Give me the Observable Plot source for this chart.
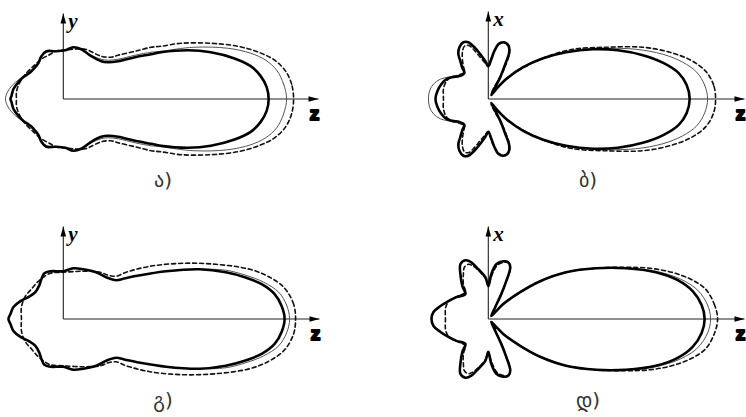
<!DOCTYPE html>
<html>
<head>
<meta charset="utf-8">
<script src="https://cdn.jsdelivr.net/npm/d3@7"></script>
<script src="https://cdn.jsdelivr.net/npm/@observablehq/plot@0.6"></script>
<style>
  body { margin: 0; background: #fff; }
  #chart { width: 746px; height: 417px; }
</style>
</head>
<body>
<div id="chart"></div>
<script>
// Four radiation patterns in the (z, y) and (z, x) planes.
// Each curve is given as its upper half, [z, transverse] pairs traced from the
// main-lobe tip round to the back-lobe tip; the lower half is its mirror image.

const panelIds     = ["a", "b", "c", "d"];
const panelCols    = ["left", "right", "left", "right"];
const panelRows    = ["top", "top", "bottom", "bottom"];
const panelLabels  = ["ა)", "ბ)", "გ)", "დ)"];
const verticalAxisNames = ["y", "x", "y", "x"];
const verticalAxisTop   = [86, 88, 93, 93];
const horizontalAxisEnd = [256, 257, 257, 257];
const horizontalAxisName = "z";
const labelPosition = [100, -82];

// panel a, (z, y) plane
const aBold = [[206,0],[204,12],[198,23],[188,33],[171,41],[148,47],[125,49],[98,47],[88,45],[72,42],[55,38],[45,37],[38,38],[28,43],[18,50],[10,52],[2,49],[-8,48],[-17,48],[-22,43],[-25,36],[-29,31],[-33,27],[-40,22],[-45,17],[-50,10],[-52,3],[-53,0]];
const aThin = [[224,0],[221,15],[214,29],[203,39],[188,46],[165,51],[131,52],[98,48],[88,47],[72,44],[55,40],[45,39],[38,40],[28,44],[18,50],[10,52],[2,49],[-8,48],[-17,47],[-22,43],[-25,36],[-30,30],[-37,25],[-44,20],[-51,14],[-56,7],[-58,0]];
const aDash = [[231,0],[229,15],[223,28],[212,39],[196,47],[175,53],[148,56],[118,56],[98,53],[88,52],[72,48],[55,44],[48,42],[38,43],[22,50],[10,50],[0,49],[-8,48],[-13,45],[-22,40],[-30,33],[-38,25],[-44,16],[-47,7],[-47,0]];

// panel b, (z, x) plane
const bBold = [[202,0],[199,14],[191,26],[176,36],[155,44],[130,49],[105,50],[78,47],[55,41],[35,32],[18,20],[8,10],[3,4],
  [7,12],[12,22],[17,35],[21,47],[20,54],[15,57],[10,55],[6,48],[3,40],[0,33],
  [-3,38],[-8,45],[-14,52],[-20,57],[-25,57],[-29,52],[-30,45],[-28,38],[-26,31],[-24,26],
  [-29,23],[-36,22],[-42,20],[-47,15],[-51,8],[-53,0]];
const bThin = [[220,0],[217,14],[209,27],[195,37],[175,45],[148,50],[118,51],[95,50],[78,47],[55,41],[35,32],[18,20],[8,10],[3,4],
  [7,12],[12,22],[17,35],[21,47],[20,54],[15,57],[10,55],[6,48],[3,40],[0,33],
  [-3,38],[-8,45],[-14,52],[-20,57],[-25,57],[-29,52],[-30,45],[-28,38],[-26,31],[-24,26],
  [-30,24],[-40,22],[-48,20],[-55,15],[-59,8],[-60,0]];
const bDash = [[228,0],[226,14],[218,28],[203,39],[182,47],[155,52],[118,52],[85,50],[60,43],[40,34],[20,22],[9,11],[3,5],
  [6,12],[12,22],[17,33],[21,45],[21,53],[16,57],[10,54],[5,46],[2,38],[0,33],
  [-4,37],[-9,43],[-15,50],[-20,54],[-24,53],[-26,47],[-26,40],[-25,33],[-24,27],
  [-30,24],[-37,22],[-42,18],[-45,10],[-45,0]];

// panel c, (z, y) plane
const cBold = [[222,0],[219,13],[212,25],[199,35],[182,42],[163,47],[137,50],[103,48],[77,44],[62,41],[53,39],[43,42],[33,47],[20,50],[10,51],[0,48],[-13,48],[-19,46],[-22,40],[-24,34],[-28,27],[-35,22],[-43,18],[-50,12],[-53,5],[-55,0]];
const cThin = [[227,0],[224,14],[216,27],[201,37],[183,44],[163,49],[137,50],[103,48],[77,44],[62,41],[53,39],[43,42],[33,47],[20,50],[10,51],[0,48],[-13,48],[-19,46],[-22,40],[-24,34],[-28,27],[-35,22],[-43,18],[-50,12],[-53,5],[-55,0]];
const cDash = [[233,0],[231,15],[222,31],[207,42],[187,50],[153,55],[120,56],[87,53],[63,47],[53,43],[45,44],[37,47],[20,48],[0,47],[-13,46],[-20,42],[-26,37],[-32,30],[-38,23],[-42,12],[-42,0]];

// panel d, (z, x) plane
const dBold = [[217,0],[214,14],[205,28],[190,39],[168,47],[138,51],[108,51],[78,47],[52,38],[32,27],[15,15],[7,7],[3,3],
  [7,12],[13,25],[18,38],[22,52],[20,57],[15,58],[8,55],[3,45],[1,36],[0,33],
  [-3,42],[-10,50],[-17,57],[-23,59],[-28,55],[-28,45],[-26,33],[-23,25],
  [-32,22],[-40,18],[-48,13],[-55,7],[-57,0]];
const dThin = [[223,0],[220,14],[210,29],[193,40],[168,48],[138,51],[108,51],[78,47],[52,38],[32,27],[15,15],[7,7],[3,3],
  [7,12],[13,25],[18,38],[22,52],[20,57],[15,58],[8,55],[3,45],[1,36],[0,33],
  [-3,42],[-10,50],[-17,57],[-23,59],[-28,55],[-28,45],[-26,33],[-23,25],
  [-32,22],[-40,18],[-48,13],[-55,7],[-57,0]];
const dDash = [[230,0],[227,14],[218,30],[203,40],[184,47],[162,51],[138,52],[108,51],[78,47],[52,38],[32,27],[15,15],[7,7],[3,3],
  [7,12],[13,25],[18,38],[22,50],[21,56],[16,57],[9,54],[4,45],[1,36],[0,33],
  [-3,41],[-9,48],[-15,53],[-20,55],[-24,52],[-25,45],[-25,35],[-23,27],
  [-30,23],[-37,20],[-41,16],[-43,10],[-43,0]];

const curveSets = [
  {bold: aBold, thin: aThin, dash: aDash},
  {bold: bBold, thin: bThin, dash: bDash},
  {bold: cBold, thin: cThin, dash: cDash},
  {bold: dBold, thin: dThin, dash: dDash}
];

// close each half-contour with its mirror image about the z axis
function mirrorClosed(upper) {
  const lower = upper.slice(1, -1).reverse().map(([h, v]) => [h, -v]);
  return upper.concat(lower);
}

function curveRows(style) {
  return curveSets.flatMap((set, i) =>
    mirrorClosed(set[style]).map(([h, v]) => ({
      key: panelIds[i] + style, col: panelCols[i], row: panelRows[i], h, v
    })));
}

const panels = panelIds.map((id, i) => ({
  id, col: panelCols[i], row: panelRows[i],
  label: panelLabels[i], vName: verticalAxisNames[i],
  vTop: verticalAxisTop[i], hEnd: horizontalAxisEnd[i],
  lx: labelPosition[0], ly: labelPosition[1], zero: 0
}));

// slim filled arrowhead whose tip sits at the symbol origin, pointing up
const arrowHead = {
  draw(context) {
    context.moveTo(0, 0);
    context.lineTo(2.8, 10);
    context.lineTo(-2.8, 10);
    context.closePath();
  }
};

const facetOpts = {fx: "col", fy: "row"};

const chart = Plot.plot({
  width: 746,
  height: 417,
  margin: 0,
  facet: {marginTop: 0, marginRight: 0, marginBottom: 0, marginLeft: 0},
  x: {domain: [-62, 258], axis: null},
  y: {domain: [-98, 98], axis: null},
  fx: {domain: ["left", "right"], axis: null, paddingInner: 0.2488, paddingOuter: 0},
  fy: {domain: ["top", "bottom"], axis: null, paddingInner: 0.1131, paddingOuter: 0},
  style: {background: "#fff"},
  marks: [
    // axes
    Plot.link(panels, {x1: "zero", y1: "zero", x2: "zero", y2: "vTop", ...facetOpts, stroke: "#222", strokeWidth: 1.1}),
    Plot.link(panels, {x1: "zero", y1: "zero", x2: "hEnd", y2: "zero", ...facetOpts, stroke: "#222", strokeWidth: 1.1}),
    Plot.dot(panels, {x: "zero", y: "vTop", ...facetOpts, symbol: arrowHead, fill: "#000", stroke: "none", rotate: 0}),
    Plot.dot(panels, {x: "hEnd", y: "zero", ...facetOpts, symbol: arrowHead, fill: "#000", stroke: "none", rotate: 90}),
    // patterns
    Plot.line(curveRows("dash"), {x: "h", y: "v", z: "key", ...facetOpts, curve: "catmull-rom-closed",
      stroke: "#111", strokeWidth: 1.6, strokeDasharray: "4,3"}),
    Plot.line(curveRows("thin"), {x: "h", y: "v", z: "key", ...facetOpts, curve: "catmull-rom-closed",
      stroke: "#555", strokeWidth: 1}),
    Plot.line(curveRows("bold"), {x: "h", y: "v", z: "key", ...facetOpts, curve: "catmull-rom-closed",
      stroke: "#000", strokeWidth: 2.6}),
    // axis names
    Plot.text(panels, {x: "zero", y: "vTop", text: "vName", ...facetOpts, dx: 5, dy: 8,
      textAnchor: "start", lineAnchor: "middle", fontFamily: "Liberation Serif",
      fontStyle: "italic", fontWeight: "bold", fontSize: 21, fill: "#000"}),
    Plot.text(panels, {x: "hEnd", y: "zero", text: () => horizontalAxisName, ...facetOpts, dx: -4, dy: 15,
      textAnchor: "middle", lineAnchor: "middle", fontFamily: "Liberation Sans",
      fontWeight: 900, fontSize: 19, fill: "#000", stroke: "#000", strokeWidth: 2.1}),
    // panel captions
    Plot.text(panels, {x: "lx", y: "ly", text: "label", ...facetOpts,
      textAnchor: "middle", lineAnchor: "middle", fontFamily: "DejaVu Sans",
      fontSize: 20, fill: "#333"})
  ]
});

document.getElementById("chart").appendChild(chart);
</script>
</body>
</html>
